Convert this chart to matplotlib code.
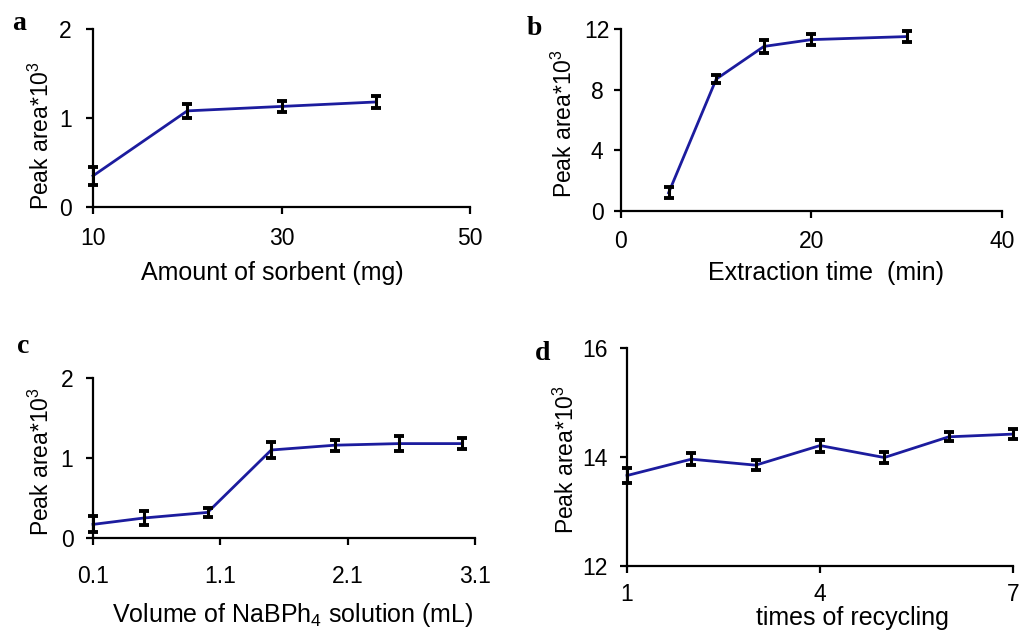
import matplotlib
matplotlib.use("Agg")
import matplotlib.pyplot as plt

plt.rcParams['font.family'] = ['Liberation Sans', 'DejaVu Sans']
plt.rcParams['mathtext.fontset'] = 'custom'
plt.rcParams['mathtext.rm'] = 'Liberation Sans'
plt.rcParams['mathtext.it'] = 'Liberation Sans:italic'

# ---- data ----
a_x = [10, 20, 30, 40]
a_y = [0.35, 1.08, 1.13, 1.18]
a_err = [0.10, 0.08, 0.06, 0.07]

b_x = [5, 10, 15, 20, 30]
b_y = [1.2, 8.7, 10.85, 11.3, 11.5]
b_err = [0.35, 0.27, 0.45, 0.35, 0.36]

c_x = [0.1, 0.5, 1.0, 1.5, 2.0, 2.5, 3.0]
c_y = [0.17, 0.25, 0.32, 1.10, 1.16, 1.18, 1.18]
c_err = [0.10, 0.09, 0.055, 0.10, 0.07, 0.09, 0.07]

d_x = [1, 2, 3, 4, 5, 6, 7]
d_y = [13.66, 13.96, 13.85, 14.21, 13.99, 14.37, 14.42]
d_err = [0.13, 0.11, 0.09, 0.11, 0.10, 0.08, 0.09]

ylabel = 'Peak area*10$^{3}$'

panels = [
    dict(letter='a', x=a_x, y=a_y, e=a_err, xlim=(10, 50), ylim=(0, 2),
         xt=[10, 30, 50], yt=[0, 1, 2], xtl=['10', '30', '50'], ytl=['0', '1', '2'],
         xlabel='Amount of sorbent (mg)', xpad=9.4, ypad=14.8,
         pos=[93, 29, 470, 207], xlab=(272, 273), ylab=(41, 136), let=(12, 30)),
    dict(letter='b', x=b_x, y=b_y, e=b_err, xlim=(0, 40), ylim=(0, 12),
         xt=[0, 20, 40], yt=[0, 4, 8, 12], xtl=['0', '20', '40'], ytl=['0', '4', '8', '12'],
         xlabel='Extraction time  (min)', xpad=8.6, ypad=12.2,
         pos=[621, 29, 1002, 211], xlab=(826, 273), ylab=(564, 124), let=(527, 35)),
    dict(letter='c', x=c_x, y=c_y, e=c_err, xlim=(0.1, 3.1), ylim=(0, 2),
         xt=[0.1, 1.1, 2.1, 3.1], yt=[0, 1, 2], xtl=['0.1', '1.1', '2.1', '3.1'], ytl=['0', '1', '2'],
         xlabel='Volume of NaBPh$_4$ solution (mL)', xpad=14.4, ypad=13.7,
         pos=[93, 378, 475, 538], xlab=(293, 615), ylab=(41, 462), let=(17, 353)),
    dict(letter='d', x=d_x, y=d_y, e=d_err, xlim=(1, 7), ylim=(12, 16),
         xt=[1, 4, 7], yt=[12, 14, 16], xtl=['1', '4', '7'], ytl=['12', '14', '16'],
         xlabel='times of recycling', xpad=7.2, ypad=18,
         pos=[627, 348, 1013, 566], xlab=(852, 618), ylab=(566, 460), let=(535, 360)),
]

W, H = 1020, 630
fig = plt.figure(figsize=(W / 100, H / 100), dpi=100)

for p in panels:
    l, t, r, b = p['pos']
    ax = fig.add_axes([l / W, 1 - b / H, (r - l) / W, (b - t) / H])
    ax.plot(p['x'], p['y'], color='#1c1c9e', lw=2.0, clip_on=False, zorder=3)
    ax.errorbar(p['x'], p['y'], yerr=p['e'], fmt='none', ecolor='black',
                elinewidth=2.2, capsize=3.4, capthick=2.8, clip_on=False, zorder=4)
    ax.set_xlim(*p['xlim'])
    ax.set_ylim(*p['ylim'])
    ax.set_xticks(p['xt'])
    ax.set_xticklabels(p['xtl'])
    ax.set_yticks(p['yt'])
    ax.set_yticklabels(p['ytl'])
    for s in ['top', 'right']:
        ax.spines[s].set_visible(False)
    for s in ['left', 'bottom']:
        ax.spines[s].set_linewidth(1.6)
        ax.spines[s].set_color('black')
    ax.tick_params(direction='out', length=5, width=1.6, labelsize=16.5)
    ax.tick_params(axis='x', pad=p['xpad'])
    ax.tick_params(axis='y', pad=p['ypad'])
    for lbl in ax.get_yticklabels():
        lbl.set_horizontalalignment('center')
    ax.patch.set_alpha(0)
    fig.text(p['xlab'][0] / W, 1 - p['xlab'][1] / H, p['xlabel'], fontsize=18,
             ha='center', va='center')
    fig.text(p['ylab'][0] / W, 1 - p['ylab'][1] / H, ylabel, fontsize=16.5,
             ha='center', va='center', rotation=90)
    fig.text(p['let'][0] / W, 1 - p['let'][1] / H, p['letter'], fontsize=20,
             fontweight='bold', family='Liberation Serif', ha='left', va='baseline')

fig.savefig('out.png', dpi=100)
